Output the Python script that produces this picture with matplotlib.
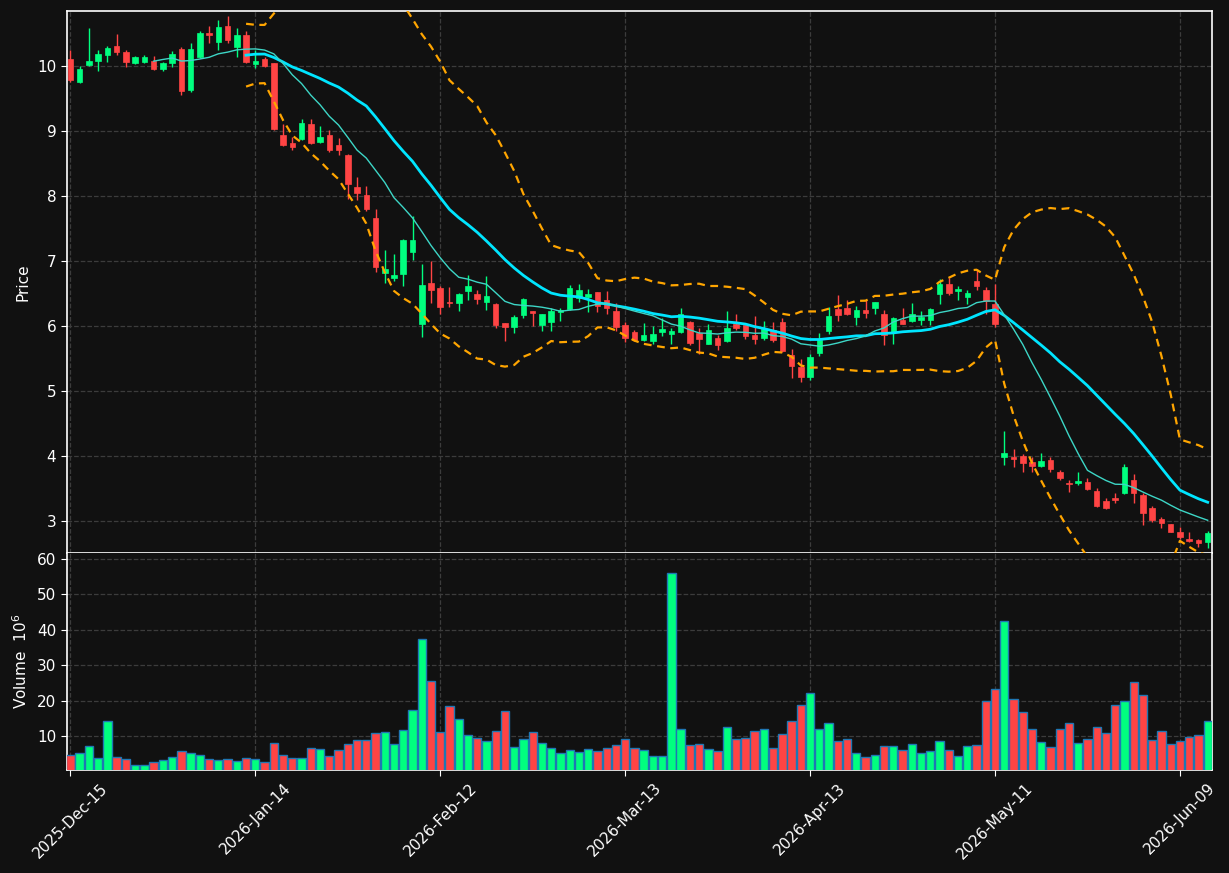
import numpy as np
import pandas as pd
import matplotlib
matplotlib.use("Agg")
import matplotlib.pyplot as plt

# ---------------- data ----------------
opens = [10.118, 9.758, 10.015, 10.09, 10.17, 10.31, 10.22, 10.05, 10.06, 10.077,
         9.96, 10.05, 10.26, 9.63, 10.143, 10.51, 10.37, 10.615, 10.297, 10.49,
         10.03, 10.12, 10.046, 8.94, 8.82, 8.877, 9.108, 8.835, 8.94, 8.785,
         8.63, 8.14, 8.015, 7.66, 6.82, 6.744, 6.8, 7.145, 6.035, 6.667,
         6.585, 6.374, 6.36, 6.54, 6.49, 6.37, 6.343, 6.046, 5.99, 6.174,
         6.23, 6.02, 6.066, 6.226, 6.262, 6.43, 6.45, 6.523, 6.41, 6.23,
         6.015, 5.91, 5.785, 5.77, 5.912, 5.887, 5.918, 6.06, 5.897, 5.728,
         5.826, 5.774, 6.03, 6.015, 5.862, 5.82, 5.95, 6.06, 5.565, 5.374,
         5.22, 5.59, 5.923, 6.272, 6.288, 6.143, 6.257, 6.28, 6.185, 5.913,
         6.103, 6.077, 6.092, 6.092, 6.492, 6.646, 6.544, 6.451, 6.692, 6.554,
         6.35, 3.99, 3.99, 4.005, 3.913, 3.851, 3.94, 3.76, 3.595, 3.595,
         3.605, 3.462, 3.313, 3.364, 3.426, 3.641, 3.41, 3.21, 3.03, 2.95,
         2.836, 2.723, 2.708, 2.682]
highs = [10.246, 10.005, 10.595, 10.246, 10.31, 10.5, 10.257, 10.154, 10.18, 10.158,
         10.06, 10.23, 10.297, 10.365, 10.538, 10.615, 10.708, 10.77, 10.595, 10.54,
         10.257, 10.143, 10.057, 9.12, 8.91, 9.195, 9.195, 9.088, 9.026, 8.9,
         8.657, 8.29, 8.165, 7.81, 7.18, 7.118, 7.35, 7.69, 6.965, 7.005,
         6.626, 6.6, 6.51, 6.785, 6.565, 6.77, 6.36, 6.057, 6.17, 6.44,
         6.235, 6.195, 6.288, 6.288, 6.63, 6.646, 6.58, 6.53, 6.543, 6.36,
         6.066, 5.94, 6.057, 6.0, 6.12, 5.98, 6.288, 6.08, 5.98, 6.03,
         5.862, 6.236, 6.195, 6.02, 6.16, 6.077, 6.06, 6.134, 5.657, 5.49,
         5.58, 5.903, 6.297, 6.477, 6.4, 6.313, 6.41, 6.38, 6.257, 6.144,
         6.288, 6.36, 6.236, 6.282, 6.723, 6.749, 6.615, 6.554, 6.877, 6.6,
         6.657, 4.39, 4.118, 4.03, 3.99, 4.056, 3.99, 3.785, 3.63, 3.75,
         3.657, 3.518, 3.35, 3.426, 3.877, 3.733, 3.426, 3.236, 3.067, 2.96,
         2.903, 2.836, 2.733, 2.846]
lows = [9.758, 9.743, 10.01, 9.93, 10.066, 10.18, 9.99, 10.04, 10.057, 9.94,
        9.93, 9.99, 9.565, 9.605, 10.133, 10.36, 10.257, 10.36, 10.143, 10.05,
        9.97, 9.99, 9.015, 8.77, 8.72, 8.86, 8.8, 8.826, 8.68, 8.64,
        7.96, 7.95, 7.777, 6.836, 6.667, 6.697, 6.62, 7.015, 5.835, 6.365,
        6.195, 6.29, 6.235, 6.41, 6.34, 6.245, 5.98, 5.774, 5.89, 6.12,
        6.0, 5.92, 5.93, 6.08, 6.246, 6.374, 6.22, 6.22, 6.195, 5.93,
        5.75, 5.774, 5.774, 5.733, 5.846, 5.72, 5.9, 5.713, 5.57, 5.72,
        5.63, 5.76, 5.94, 5.81, 5.733, 5.785, 5.765, 5.605, 5.21, 5.143,
        5.17, 5.543, 5.887, 6.08, 6.17, 6.026, 6.134, 6.195, 5.708, 5.733,
        6.03, 6.066, 6.026, 6.026, 6.35, 6.477, 6.41, 6.35, 6.564, 6.195,
        5.99, 3.872, 3.836, 3.76, 3.76, 3.836, 3.76, 3.64, 3.45, 3.554,
        3.477, 3.22, 3.18, 3.272, 3.415, 3.287, 2.938, 2.99, 2.89, 2.83,
        2.72, 2.682, 2.605, 2.58]
closes = [9.785, 9.964, 10.077, 10.185, 10.277, 10.215, 10.06, 10.143, 10.138, 9.954,
          10.05, 10.185, 9.615, 10.26, 10.51, 10.48, 10.6, 10.4, 10.49, 10.06,
          10.09, 10.005, 9.03, 8.785, 8.76, 9.134, 8.82, 8.92, 8.72, 8.71,
          8.19, 8.05, 7.8, 6.91, 6.877, 6.785, 7.32, 7.32, 6.63, 6.554,
          6.297, 6.36, 6.49, 6.615, 6.415, 6.462, 6.02, 5.99, 6.14, 6.415,
          6.2, 6.185, 6.23, 6.246, 6.595, 6.565, 6.503, 6.313, 6.28, 5.99,
          5.82, 5.795, 5.862, 5.887, 5.954, 5.928, 6.185, 5.743, 5.8, 5.94,
          5.71, 5.98, 5.97, 5.857, 5.805, 5.96, 5.79, 5.62, 5.39, 5.22,
          5.523, 5.795, 6.154, 6.17, 6.195, 6.246, 6.205, 6.37, 5.866, 6.134,
          6.041, 6.185, 6.138, 6.262, 6.657, 6.513, 6.57, 6.513, 6.615, 6.39,
          6.04, 4.056, 3.954, 3.897, 3.851, 3.923, 3.8, 3.667, 3.57, 3.62,
          3.49, 3.236, 3.205, 3.323, 3.826, 3.426, 3.118, 3.015, 2.974, 2.836,
          2.76, 2.697, 2.667, 2.82]
volumes = [4.74, 5.3, 7.27, 3.9, 14.3, 4.17, 3.6, 1.82, 1.82, 2.76,
           3.33, 4.08, 5.86, 5.2, 4.64, 3.6, 3.33, 3.6, 2.95, 3.9,
           3.6, 2.76, 8.12, 4.64, 3.9, 3.9, 6.7, 6.43, 4.45, 6.14,
           7.84, 8.97, 8.97, 10.94, 11.2, 7.8, 11.7, 17.3, 37.4, 25.5,
           11.1, 18.5, 14.8, 10.3, 9.4, 8.6, 11.4, 17.1, 6.9, 9.15,
           11.1, 8.0, 6.6, 5.2, 6.0, 5.5, 6.3, 5.8, 6.6, 7.45,
           9.15, 6.6, 6.0, 4.35, 4.35, 56.0, 12.0, 7.45, 7.74, 6.3,
           5.8, 12.5, 9.15, 9.4, 11.4, 12.0, 6.6, 10.6, 14.2, 18.8,
           22.1, 12.0, 13.7, 8.6, 9.15, 5.2, 4.1, 4.6, 7.2, 7.2,
           6.0, 7.74, 5.2, 5.8, 8.6, 6.0, 4.35, 7.2, 7.45, 19.9,
           23.3, 42.5, 20.5, 16.8, 12.0, 8.3, 6.9, 12.0, 13.7, 8.0,
           9.15, 12.5, 10.85, 18.8, 19.9, 25.25, 21.6, 8.87, 11.4, 7.74,
           8.6, 9.7, 10.3, 14.2]
tick_positions = [0, 20, 40, 60, 80, 100, 120]
tick_labels = ["2025-Dec-15", "2026-Jan-14", "2026-Feb-12", "2026-Mar-13",
               "2026-Apr-13", "2026-May-11", "2026-Jun-09"]
price_ticks = [3, 4, 5, 6, 7, 8, 9, 10]
volume_ticks = [10, 20, 30, 40, 50, 60]

# ---------------- style ----------------
BG = "#111111"
UP = "#00ff7f"
DOWN = "#ff4444"
GRID = "#3c3c3c"
FG = "#ffffff"

o = np.array(opens); h = np.array(highs); l = np.array(lows); c = np.array(closes)
v = np.array(volumes)
x = np.arange(len(c))
up = c >= o
colors = np.where(up, UP, DOWN)

cs = pd.Series(c)
ma10 = cs.rolling(10).mean()
ma20 = cs.rolling(20).mean()
sd20 = cs.rolling(20).std(ddof=0)
upper = ma20 + 2 * sd20
lower = ma20 - 2 * sd20

W, H = 1229, 873
fig = plt.figure(figsize=(W / 100, H / 100), dpi=100, facecolor=BG)
L, R = 66.7 / W, 1212.3 / W
ax1 = fig.add_axes([L, 1 - 553 / H, R - L, (553 - 10.5) / H])
ax2 = fig.add_axes([L, 1 - 770 / H, R - L, (770 - 553) / H], sharex=ax1)

for ax in (ax1, ax2):
    ax.set_facecolor(BG)
    ax.grid(True, linestyle="--", color=GRID, linewidth=0.9)
    ax.set_axisbelow(True)
    for s in ax.spines.values():
        s.set_color(FG)
        s.set_linewidth(1.2)
    ax.tick_params(colors=FG, labelcolor=FG, labelsize=11, length=4)

# candles
ax1.vlines(x, l, h, colors=colors, linewidth=1.0, zorder=2)
bottoms = np.minimum(o, c)
heights = np.maximum(np.abs(c - o), 0.012)
ax1.bar(x, heights, bottom=bottoms, width=0.6, color=colors,
        edgecolor=colors, linewidth=0.5, zorder=3)

# moving averages and bands
ax1.plot(x, ma20, color="#00e5ff", linewidth=2.0, zorder=4)
ax1.plot(x, ma10, color="#3dd6c6", linewidth=1.0, zorder=4)
ax1.plot(x, upper, color="#ffa500", linewidth=1.6, linestyle=(0, (3.5, 2.5)), zorder=4)
ax1.plot(x, lower, color="#ffa500", linewidth=1.6, linestyle=(0, (3.5, 2.5)), zorder=4)

ax1.set_ylim(2.51, 10.86)
ax1.set_yticks(price_ticks)
ax1.set_ylabel("Price", color=FG, fontsize=11)
ax1.tick_params(axis="x", labelbottom=False, length=0)

# volume
ax2.bar(x, v, width=0.9, color=colors, edgecolor="#1f77b4", linewidth=1.0, zorder=3)
ax2.set_ylim(0.5, 61.7)
ax2.set_yticks(volume_ticks)
ax2.set_ylabel("Volume  $10^6$", color=FG, fontsize=11)
ax2.spines["top"].set_visible(False)

ax2.set_xlim(-0.4, len(c) - 0.5)
ax2.set_xticks(tick_positions)
ax2.set_xticklabels(tick_labels, rotation=45, ha="center", fontsize=11)

ax1.yaxis.set_label_coords(-0.032, 0.5)
ax2.yaxis.set_label_coords(-0.032, 0.5)

fig.savefig("out.png", dpi=100, facecolor=BG)
